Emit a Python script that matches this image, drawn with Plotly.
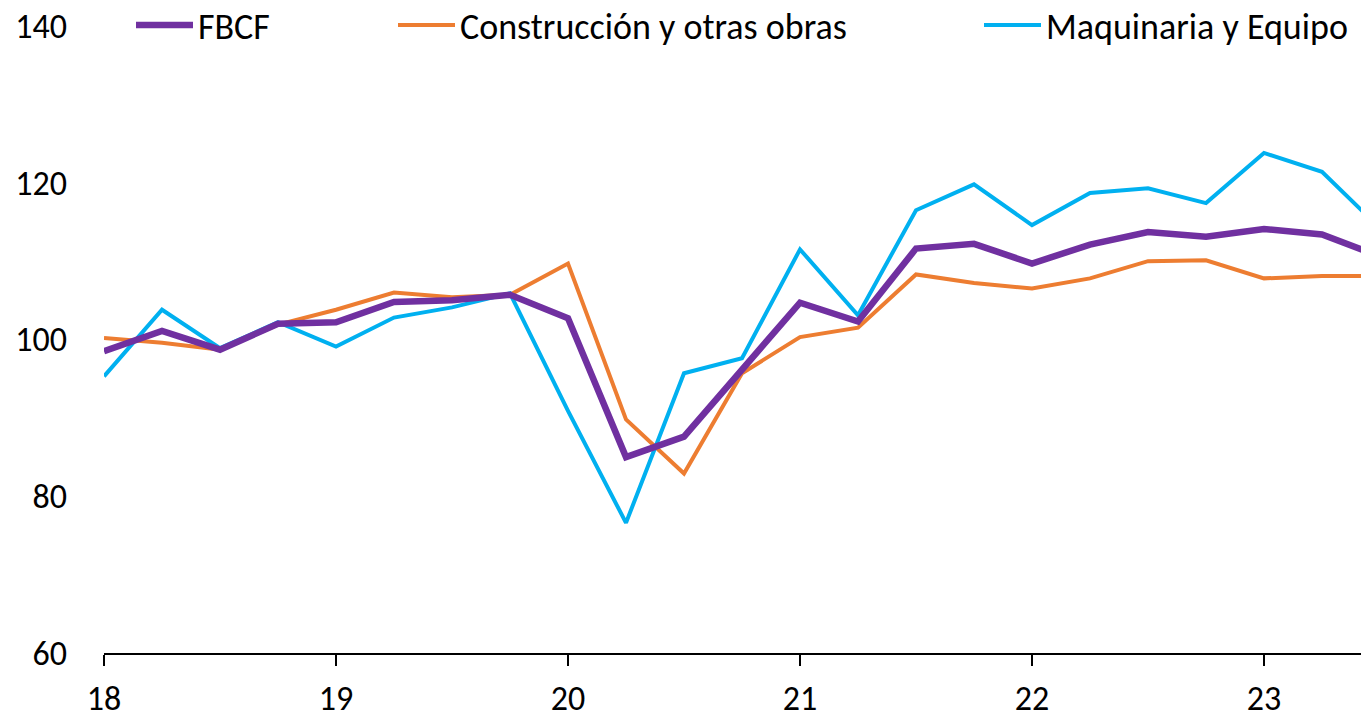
import plotly.graph_objects as go

quarters = [18.0, 18.25, 18.5, 18.75, 19.0, 19.25, 19.5, 19.75, 20.0, 20.25, 20.5, 20.75,
            21.0, 21.25, 21.5, 21.75, 22.0, 22.25, 22.5, 22.75, 23.0, 23.25, 23.5]
fbcf = [98.5, 101.1, 98.7, 102.0, 102.2, 104.8, 105.0, 105.7, 102.7, 85.0, 87.6, 96.2,
        104.7, 102.3, 111.6, 112.2, 109.7, 112.1, 113.7, 113.1, 114.1, 113.4, 110.6]
construccion = [100.2, 99.6, 98.7, 101.9, 103.8, 106.0, 105.4, 105.7, 109.7, 89.8, 82.9, 95.7,
                100.3, 101.5, 108.3, 107.2, 106.5, 107.8, 110.0, 110.1, 107.8, 108.1, 108.1]
maquinaria = [95.3, 103.8, 98.9, 102.2, 99.1, 102.8, 104.1, 105.9, 90.9, 76.6, 95.7, 97.6,
              111.5, 103.1, 116.5, 119.8, 114.6, 118.7, 119.3, 117.4, 123.8, 121.4, 114.2]
series_names = ["FBCF", "Construcción y otras obras", "Maquinaria y Equipo"]
x_tickvals = [18, 19, 20, 21, 22, 23]
x_ticktext = ["18", "19", "20", "21", "22", "23"]
y_tickvals = [60, 80, 100, 120, 140]

FONT = "Calibri, Lato, sans-serif"
W, H = 1361, 718
L, T, B = 104, 26, 65
PW = W - L
PH = H - T - B

fig = go.Figure()
fig.add_trace(go.Scatter(x=quarters, y=construccion, name=series_names[1], mode="lines",
                         line=dict(color="#ED7D31", width=4), legend="legend2"))
fig.add_trace(go.Scatter(x=quarters, y=maquinaria, name=series_names[2], mode="lines",
                         line=dict(color="#00B0F0", width=4), legend="legend3"))
fig.add_trace(go.Scatter(x=quarters, y=fbcf, name=series_names[0], mode="lines",
                         line=dict(color="#7030A0", width=6.5), legend="legend"))

leg_common = dict(yref="paper", y=1 + 1 / PH, yanchor="middle", xanchor="left",
                  bgcolor="rgba(0,0,0,0)", font=dict(family=FONT, size=36, color="#000000"),
                  itemwidth=57, visible=True)
fig.update_layout(
    width=W, height=H,
    showlegend=True,
    margin=dict(l=L, r=0, t=T, b=B, autoexpand=False),
    paper_bgcolor="white", plot_bgcolor="white",
    font=dict(family=FONT, size=34, color="#000000"),
    legend=dict(x=(131 - L) / PW, **leg_common),
    legend2=dict(x=(393 - L) / PW, **leg_common),
    legend3=dict(x=(979 - L) / PW, **leg_common),
    xaxis=dict(range=[18, 18 + PW / 232], tickvals=x_tickvals, ticktext=x_ticktext,
               showgrid=False, zeroline=False, showline=True, linecolor="#000000", linewidth=2,
               ticks="outside", ticklen=11, tickwidth=2, tickcolor="#000000",
               ticklabelstandoff=3, automargin=False,
               tickfont=dict(family=FONT, size=34, color="#000000")),
    yaxis=dict(range=[60, 140], tickvals=y_tickvals, showgrid=False, zeroline=False,
               showline=False, ticks="", ticklabelstandoff=36, automargin=False,
               tickfont=dict(family=FONT, size=34, color="#000000")),
)
fig.write_html("out.html", config={"displayModeBar": False},
               post_script="document.body.style.margin='0';document.body.style.overflow='hidden';")
